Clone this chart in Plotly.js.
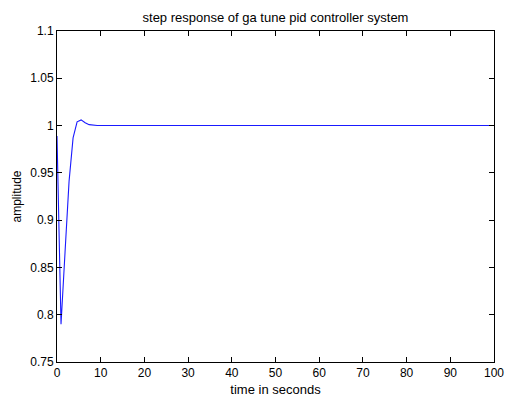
<!DOCTYPE html>
<html>
<head>
<meta charset="utf-8">
<script src="https://cdn.plot.ly/plotly-3.0.1.min.js"></script>
<style>html,body{margin:0;padding:0;background:#fff;}#chart{width:506px;height:399px;}</style>
</head>
<body>
<div id="chart"></div>
<script>
var timeSeconds = [0, 0.92, 1.84, 2.76, 3.68, 4.6, 5.52, 6.44, 7.36, 8.28, 9.2, 10, 20, 30, 40, 50, 60, 70, 80, 90, 100];
var amplitude   = [0.989, 0.790, 0.866, 0.941, 0.987, 1.004, 1.006, 1.003, 1.001, 1.0003, 1.0, 1.0, 1.0, 1.0, 1.0, 1.0, 1.0, 1.0, 1.0, 1.0, 1.0];
var xTicks = [0, 10, 20, 30, 40, 50, 60, 70, 80, 90, 100];
var yTicks = [0.75, 0.8, 0.85, 0.9, 0.95, 1, 1.05, 1.1];
var yTickLabels = ['0.75', '0.8', '0.85', '0.9', '0.95', '1', '1.05', '1.1'];

var fam = 'Liberation Sans, Arial, sans-serif';
var tickFont = {family: fam, size: 12, color: '#000'};
var titleFont = {family: fam, size: 13, color: '#000'};
var yTitleFont = {family: fam, size: 12, color: '#000'};

var trace = {
  x: timeSeconds, y: amplitude, type: 'scatter', mode: 'lines',
  line: {color: '#1a1aff', width: 1.1}, hoverinfo: 'none'
};

var axisCommon = {
  showline: true, mirror: 'allticks', linecolor: '#000', linewidth: 1,
  ticks: 'inside', ticklen: 5, tickcolor: '#000', tickwidth: 1,
  showgrid: false, zeroline: false, tickfont: tickFont, automargin: false
};

var layout = {
  width: 506, height: 399,
  margin: {l: 57, r: 12, t: 31, b: 37, pad: 0},
  paper_bgcolor: '#fff', plot_bgcolor: '#fff',
  font: tickFont, showlegend: false,
  title: {text: 'step response of ga tune pid controller system', font: titleFont,
          x: 0.5, xref: 'paper', xanchor: 'center', y: 1 - 17/399, yref: 'container', yanchor: 'middle'},
  xaxis: Object.assign({}, axisCommon, {
    range: [0, 100], tickvals: xTicks, ticktext: xTicks.map(String),
    title: {text: 'time in seconds', font: titleFont, standoff: 5}
  }),
  yaxis: Object.assign({}, axisCommon, {
    range: [0.75, 1.1], tickvals: yTicks, ticktext: yTickLabels,
    title: {text: 'amplitude', font: yTitleFont, standoff: 6}
  })
};

Plotly.newPlot('chart', [trace], layout, {staticPlot: true, displayModeBar: false});
</script>
</body>
</html>
